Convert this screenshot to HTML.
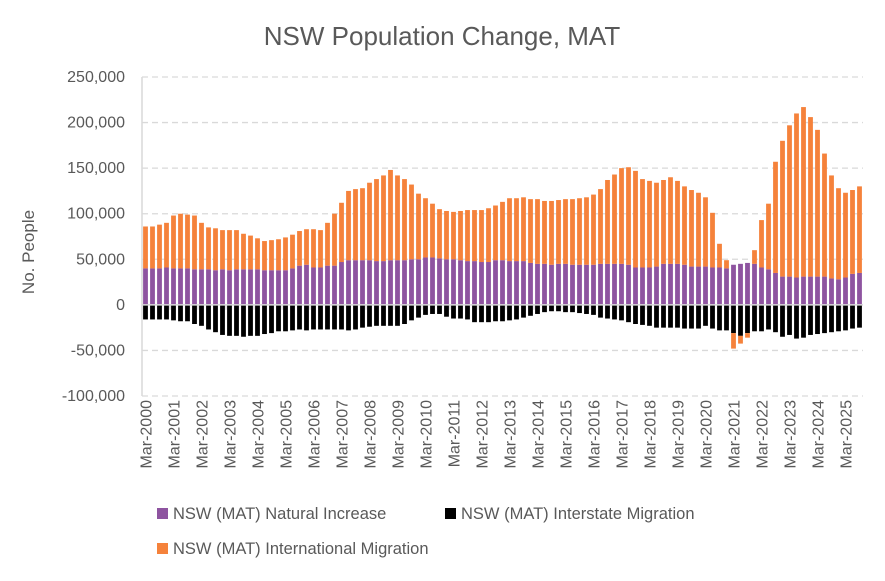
<!DOCTYPE html>
<html><head><meta charset="utf-8"><style>
body{margin:0;background:#fff;font-family:"Liberation Sans",Arial,sans-serif;}
svg text{font-family:"Liberation Sans",Arial,sans-serif;fill:#595959;}
</style></head><body>
<svg id="chart" width="885" height="576" viewBox="0 0 885 576">
<rect width="885" height="576" fill="#fff"/>
<text x="442" y="45" text-anchor="middle" font-size="26">NSW Population Change, MAT</text>
<text transform="translate(34,252) rotate(-90)" text-anchor="middle" font-size="17">No. People</text>
<g id="grid"></g><g id="bars"></g><g id="axes"></g>
<g>
<rect x="157" y="508" width="11" height="11" fill="#8e54a0"/>
<text x="173" y="519" font-size="16.5">NSW (MAT) Natural Increase</text>
<rect x="445" y="508" width="11" height="11" fill="#000"/>
<text x="461" y="519" font-size="16.5">NSW (MAT) Interstate Migration</text>
<rect x="157" y="543" width="11" height="11" fill="#f5823b"/>
<text x="173" y="554" font-size="16.5">NSW (MAT) International Migration</text>
</g>
</svg>
<script>
const natural=[40,40,40,41,40,40,40,39,39,39,38,39,38,39,39,39,39,38,38,38,38,40,43,44,41,41,43,43,47,49,49,49,49,48,48,49,49,49,50,50,52,52,51,50,50,49,48,48,47,47,49,49,48,48,48,46,45,45,44,45,45,44,44,44,44,45,45,45,45,44,41,41,41,42,45,45,45,44,42,42,42,41,41,40,44,45,46,45,41,39,35,31,31,30,31,31,31,31,29,28,30,34,35];
const totalPos=[86,86,88,90,98,100,99,98,90,85,84,82,82,82,78,76,73,70,71,72,74,77,81,83,83,82,90,100,112,125,127,128,134,138,142,148,142,138,132,122,117,111,105,103,102,103,104,104,104,106,109,113,117,117,118,116,116,114,114,115,116,116,117,118,121,127,137,143,150,151,147,138,136,134,137,140,136,130,126,123,118,101,67,49,44,45,46,60,93,111,157,180,197,210,217,206,192,166,142,128,123,126,130];
const interstate=[-16,-16,-16,-16,-17,-18,-18,-21,-23,-27,-30,-33,-34,-34,-35,-34,-34,-32,-31,-29,-29,-28,-27,-28,-27,-27,-27,-27,-27,-28,-27,-25,-24,-23,-23,-23,-23,-21,-17,-14,-11,-10,-10,-13,-15,-15,-16,-19,-19,-19,-18,-18,-17,-16,-14,-12,-10,-8,-7,-7,-8,-8,-9,-10,-11,-14,-15,-16,-17,-19,-21,-22,-23,-25,-25,-25,-25,-26,-26,-26,-23,-26,-28,-28,-31,-34,-31,-29,-29,-27,-30,-35,-33,-37,-36,-33,-32,-31,-30,-29,-28,-26,-25];
const intlNeg={84:-17,85:-8.5,86:-5};
const international=natural.map((n,i)=> intlNeg[i]!==undefined? intlNeg[i] : totalPos[i]-n);
const yTicks=[250000,200000,150000,100000,50000,0,-50000,-100000];
const startYear=2000;
const NS="http://www.w3.org/2000/svg";
const L=142,R=863,T=77,B=396,vMax=250,vMin=-100;
const n=natural.length, cw=(R-L)/n, bw=4.8;
const y=v=>T+(vMax-v)/(vMax-vMin)*(B-T);
const x=i=>L+(i+0.5)*cw;
function mk(tag,attrs,parent){const e=document.createElementNS(NS,tag);for(const k in attrs)e.setAttribute(k,attrs[k]);parent.appendChild(e);return e;}
const grid=document.getElementById('grid'),bars=document.getElementById('bars'),axes=document.getElementById('axes');
yTicks.forEach(t=>{
  const yy=y(t/1000);
  if(t!==0){const g=mk('line',{x1:L,x2:R,y1:yy,y2:yy,stroke:'#d9d9d9','stroke-width':1.3,'stroke-dasharray':'6,4'},grid);
  
  }
  const tx=mk('text',{x:125,y:yy+5,'text-anchor':'end','font-size':16},axes);
  tx.textContent=t.toLocaleString('en-US');
  
  
});
for(let i=0;i<n;i++){
  const xc=x(i)-bw/2;
  const nv=natural[i], iv=interstate[i], intl=international[i];
  const r1=mk('rect',{x:xc,y:y(nv),width:bw,height:y(0)-y(nv),fill:'#8e54a0'},bars);
  
  
  const r2=mk('rect',{x:xc,y:y(0),width:bw,height:y(iv)-y(0),fill:'#000'},bars);
  
  
  let r3;
  if(intl>=0){r3=mk('rect',{x:xc,y:y(nv+intl),width:bw,height:y(nv)-y(nv+intl),fill:'#f5823b'},bars);}
  else{r3=mk('rect',{x:xc,y:y(iv),width:bw,height:y(iv+intl)-y(iv),fill:'#f5823b'},bars);}
  
  
  if(i%4===0){
    const tk=mk('line',{x1:L+i*cw,x2:L+i*cw,y1:y(0),y2:y(0)+5,stroke:'#d9d9d9','stroke-width':1.3},axes);
    
    
    const lb=mk('text',{transform:`translate(${x(i)+6},400) rotate(-90)`,'text-anchor':'end','font-size':16},axes);
    lb.textContent='Mar-'+(startYear+i/4);
    
    
  }
}
const ax=mk('line',{x1:L,x2:L,y1:T,y2:B,stroke:'#d9d9d9','stroke-width':1.5},axes);


const zl=mk('line',{x1:L,x2:R,y1:y(0),y2:y(0),stroke:'#d9d9d9','stroke-width':1.5},axes);


</script>
</body></html>
